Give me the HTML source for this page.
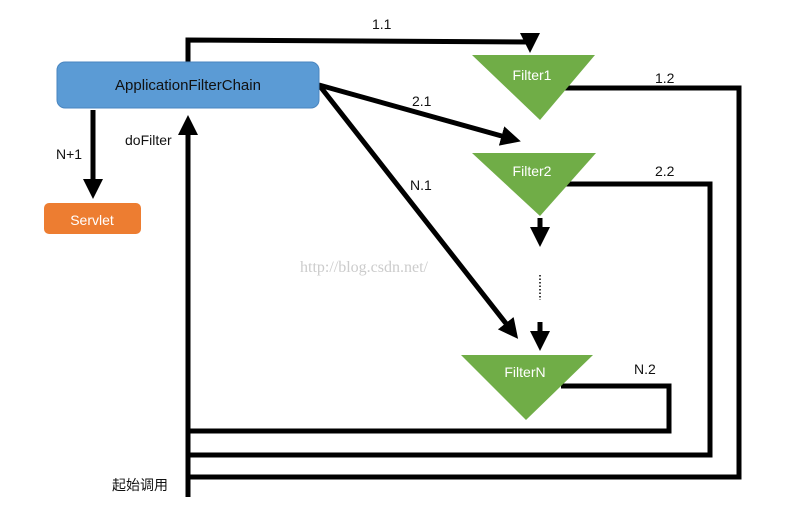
<!DOCTYPE html>
<html><head><meta charset="utf-8"><style>
html,body{margin:0;padding:0;background:#fff;}
svg{display:block;font-family:"Liberation Sans","Noto Sans CJK SC",sans-serif;}
</style></head><body>
<svg width="785" height="511" viewBox="0 0 785 511" xmlns="http://www.w3.org/2000/svg">
<defs>
<marker id="a" markerWidth="4" markerHeight="4" refX="3" refY="2" orient="auto" markerUnits="strokeWidth">
<path d="M0,0 L4,2 L0,4 z" fill="#000"/></marker>
</defs>
<g stroke="#000" stroke-width="5" fill="none">
<!-- loops -->
<polyline points="565,88 739,88 739,477 188,477"/>
<polyline points="565,184 710,184 710,455 188,455"/>
<polyline points="561,386 669,386 669,431 188,431"/>
<line x1="188" y1="497" x2="188" y2="120" marker-end="url(#a)"/>
<polyline points="188,62 188,40 530,42 530,48" marker-end="url(#a)"/>
<line x1="319" y1="85" x2="516" y2="140" marker-end="url(#a)"/>
<line x1="319" y1="85" x2="515" y2="335" marker-end="url(#a)"/>
<line x1="93" y1="110" x2="93" y2="194" marker-end="url(#a)"/>
<line x1="540" y1="218" x2="540" y2="242" marker-end="url(#a)"/>
<line x1="540" y1="322" x2="540" y2="346" marker-end="url(#a)"/>
</g>
<line x1="540" y1="275" x2="540" y2="300" stroke="#000" stroke-width="1.5" stroke-dasharray="1.5,2"/>
<rect x="57" y="62" width="262" height="46" rx="8" fill="#5b9bd5" stroke="#4a86c0" stroke-width="1"/>
<text x="188" y="90" text-anchor="middle" font-size="15" fill="#111">ApplicationFilterChain</text>
<rect x="44" y="203" width="97" height="31" rx="5" fill="#ed7d31"/>
<text x="92" y="225" text-anchor="middle" font-size="14" fill="#fff">Servlet</text>
<polygon points="472,55 595,55 540,120" fill="#70ad47"/>
<text x="532" y="80" text-anchor="middle" font-size="14" fill="#fff">Filter1</text>
<polygon points="472,153 596,153 540,216" fill="#70ad47"/>
<text x="532" y="176" text-anchor="middle" font-size="14" fill="#fff">Filter2</text>
<polygon points="461,355 593,355 526,420" fill="#70ad47"/>
<text x="525" y="377" text-anchor="middle" font-size="14" fill="#fff">FilterN</text>
<g font-size="14" fill="#111">
<text x="372" y="29">1.1</text>
<text x="655" y="83">1.2</text>
<text x="412" y="106">2.1</text>
<text x="655" y="176">2.2</text>
<text x="410" y="190">N.1</text>
<text x="634" y="374">N.2</text>
<text x="56" y="159">N+1</text>
<text x="125" y="145">doFilter</text>
<text x="112" y="490">起始调用</text>
</g>
<text x="300" y="272" font-family="Liberation Serif,serif" font-size="16" fill="#ccc">http://blog.csdn.net/</text>
</svg>
</body></html>
